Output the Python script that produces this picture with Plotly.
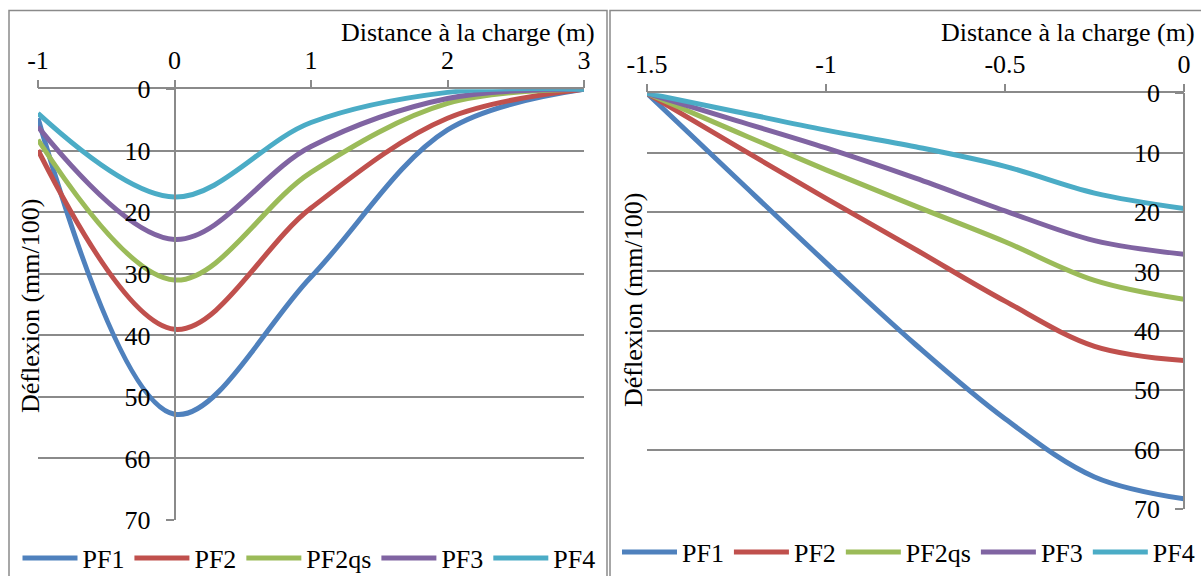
import plotly.graph_objects as go

# ---------------- data ----------------
series_names = ["PF1", "PF2", "PF2qs", "PF3", "PF4"]
colors = ["#4F81BD", "#C0504D", "#9BBB59", "#8064A2", "#4BACC6"]

# Left panel: distance -1 .. 3 m
x_left = [-1, 0, 1, 2, 3]
pf1_left = [4.7, 52.8, 30.5, 6.6, 0]
pf2_left = [9.9, 39.0, 19.3, 4.7, 0]
pf2qs_left = [8.2, 31.0, 13.5, 2.3, 0]
pf3_left = [6.1, 24.4, 9.3, 1.5, 0]
pf4_left = [3.9, 17.5, 5.4, 0.5, 0]

# Right panel: distance -1.5 .. 0 m
x_right = [-1.5, -1.25, -1, -0.75, -0.5, -0.25, 0]
pf1_right = [0, 14.3, 28.5, 42.3, 54.8, 64.6, 68.3]
pf2_right = [0, 8.9, 17.7, 26.3, 35.0, 42.6, 45.0]
pf2qs_right = [0, 6.5, 12.9, 19.0, 25.0, 31.5, 34.7]
pf3_right = [0, 4.6, 9.2, 14.3, 19.8, 24.8, 27.1]
pf4_right = [0, 3.1, 6.2, 9.0, 12.3, 16.8, 19.4]

left_vals = [pf1_left, pf2_left, pf2qs_left, pf3_left, pf4_left]
right_vals = [pf1_right, pf2_right, pf2qs_right, pf3_right, pf4_right]

x_title = "Distance à la charge (m)"
y_title = "Déflexion (mm/100)"
y_ticks = [0, 10, 20, 30, 40, 50, 60, 70]
x_ticks_left = [-1, 0, 1, 2, 3]
x_ticktext_left = ["-1", "0", "1", "2", "3"]
x_ticks_right = [-1.5, -1, -0.5, 0]
x_ticktext_right = ["-1.5", "-1", "-0.5", "0"]

# ---------------- figure ----------------
W, H = 1201, 576
FONT = "Liberation Serif, Times New Roman, serif"
FS = 26
GRAY = "#8A8A8A"
LW = 5

fig = go.Figure()

for name, col, yv in zip(series_names, colors, left_vals):
    fig.add_trace(go.Scatter(x=x_left, y=yv, name=name, mode="lines",
                             line=dict(color=col, width=LW, shape="spline", smoothing=1.0),
                             xaxis="x", yaxis="y", legend="legend"))
for name, col, yv in zip(series_names, colors, right_vals):
    fig.add_trace(go.Scatter(x=x_right, y=yv, name=name, mode="lines",
                             line=dict(color=col, width=LW, shape="spline", smoothing=1.0),
                             xaxis="x2", yaxis="y2", legend="legend2"))

def px_x(p):
    return p / W

def px_y(p):
    return 1 - p / H

axis_common = dict(showline=True, linecolor=GRAY, linewidth=1.5, ticks="outside",
                   tickcolor=GRAY, tickwidth=1.5, ticklen=8, zeroline=False,
                   tickfont=dict(family=FONT, size=FS, color="black"))

legend_common = dict(orientation="h", yanchor="middle", xanchor="left",
                     font=dict(family=FONT, size=FS, color="black"),
                     bgcolor="rgba(0,0,0,0)", tracegroupgap=0, itemwidth=55)

fig.update_layout(
    width=W, height=H,
    margin=dict(l=0, r=0, t=0, b=0, autoexpand=False),
    paper_bgcolor="white", plot_bgcolor="white",
    font=dict(family=FONT, size=FS, color="black"),
    xaxis=dict(domain=[px_x(38), px_x(584)], range=[-1, 3],
               tickvals=x_ticks_left, ticktext=x_ticktext_left,
               side="top", anchor="y", showgrid=False, **axis_common),
    yaxis=dict(domain=[px_y(520), px_y(89.3)], range=[70, 0], tickvals=y_ticks,
               anchor="free", position=174.5 / W, side="left",
               showgrid=True, gridcolor=GRAY, gridwidth=1.5, ticklabelstandoff=10,
               **axis_common),
    xaxis2=dict(domain=[px_x(647), px_x(1184)], range=[-1.5, 0],
                tickvals=x_ticks_right, ticktext=x_ticktext_right,
                side="top", anchor="y2", showgrid=False, **axis_common),
    yaxis2=dict(domain=[px_y(509), px_y(93.3)], range=[70, 0], tickvals=y_ticks,
                anchor="free", position=1184 / W, side="left",
                showgrid=True, gridcolor=GRAY, gridwidth=1.5, ticklabelstandoff=10,
                **axis_common),
    legend=dict(x=px_x(17.5), y=px_y(558), **legend_common),
    legend2=dict(x=px_x(617), y=px_y(552), **legend_common),
    showlegend=True,
)

# panel borders
for x0, x1 in [(9, 607), (610, 1205)]:
    fig.add_shape(type="rect", xref="paper", yref="paper",
                  x0=px_x(x0), x1=px_x(x1), y0=-0.05, y1=px_y(10.5),
                  line=dict(color=GRAY, width=1.5), fillcolor="rgba(0,0,0,0)", layer="below")

# axis titles
for xr, yr in [(597, 32), (1197, 32)]:
    fig.add_annotation(text=x_title, xref="paper", yref="paper", x=px_x(xr), y=px_y(yr),
                       xanchor="right", yanchor="middle", showarrow=False,
                       font=dict(family=FONT, size=FS, color="black"))
for xc, yc in [(30, 306), (633, 300)]:
    fig.add_annotation(text=y_title, xref="paper", yref="paper", x=px_x(xc), y=px_y(yc),
                       xanchor="center", yanchor="middle", showarrow=False, textangle=-90,
                       font=dict(family=FONT, size=FS, color="black"))

fig.write_html("out.html", config={"displayModeBar": False},
               post_script="document.body.style.margin='0';")
